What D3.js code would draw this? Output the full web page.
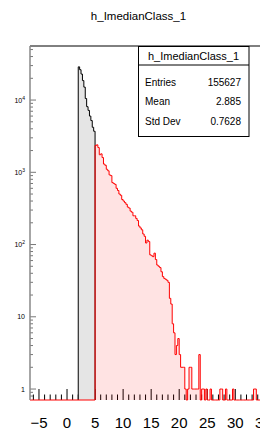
<!DOCTYPE html>
<html>
<head>
<meta charset="utf-8">
<script src="https://cdn.jsdelivr.net/npm/d3@7"></script>
<style>
  body { margin: 0; background: #fff; }
  text { font-family: "Liberation Sans", Arial, sans-serif; }
</style>
</head>
<body>
<div id="chart"></div>
<script>
// histogram contents, bin width 0.25
var binWidth = 0.25;
var grayStart = 2;
var grayCounts = [28800, 26300, 22900, 18600, 15100, 10500, 8100, 7200, 6000, 5200, 4200, 3700];
var redStart = 5;
var redCounts = [2350, 2400, 2200, 1750, 1800, 1600, 1300, 1250, 1100, 1050,
  920, 900, 720, 700, 680, 600, 560, 500, 480, 420,
  400, 380, 360, 330, 320, 290, 280, 250, 250, 230,
  215, 180, 170, 160, 140, 130, 105, 115, 110, 72,
  70, 68, 76, 62, 52, 50, 48, 42, 36, 34,
  33, 32, 30, 18, 15, 8, 6, 3, 4, 5,
  3, 2, 2, 2, 1, 0, 1, 2, 2, 1,
  1, 1, 1, 1, 3, 0, 1, 1, 0, 1,
  0, 0, 1, 0, 0, 0, 0, 0, 0, 1,
  1, 0, 0, 1, 0, 0, 0, 0, 1, 0,
  0, 0, 0, 0, 0, 0, 0, 0, 0, 0,
  0, 0, 0, 1, 1, 0, 0, 0, 0, 0];
var xTickValues = [-5, 0, 5, 10, 15, 20, 25, 30, 35];
var yTickValues = [1, 10, 100, 1000, 10000];
var statNames = ["Entries", "Mean", "Std Dev"];
var statValues = ["155627", "2.885", "0.7628"];
var histName = "h_ImedianClass_1";

var svg = d3.select("#chart").append("svg").attr("width", 260).attr("height", 433);

var xMin = -6.6, xMax = 37.4;
var x = d3.scaleLinear().domain([xMin, xMax]).range([30, 276.8]);
var y = d3.scaleLog().domain([0.705, 56000]).range([400, 46]);
var bottom = y.range()[0];

// title
svg.append("text").attr("x", 138.5).attr("y", 20).attr("text-anchor", "middle")
  .style("font-size", "11.5px").text(histName);

// axes ticks
var ax = svg.append("g");
d3.range(-6, 38).forEach(function (v) {
  var major = v % 5 == 0;
  ax.append("line").attr("x1", x(v)).attr("x2", x(v))
    .attr("y1", bottom).attr("y2", bottom - (major ? 11 : 5.5))
    .attr("stroke", "#000").attr("stroke-width", 1);
});
xTickValues.forEach(function (v) {
  ax.append("text").attr("x", x(v)).attr("y", 428).attr("text-anchor", "middle")
    .style("font-size", "15px").text(v < 0 ? "\u2212" + (-v) : v);
});

var yMinor = [];
[0.1, 1, 10, 100, 1000, 10000].forEach(function (d) {
  for (var k = 1; k < 10; k++) {
    var v = d * k;
    if (v >= 0.705 && v <= 56000) yMinor.push(v);
  }
});
yMinor.forEach(function (v) {
  var major = yTickValues.indexOf(v) >= 0;
  ax.append("line").attr("x1", 30).attr("x2", 30 + (major ? 6 : 3))
    .attr("y1", y(v)).attr("y2", y(v))
    .attr("stroke", "#777").attr("stroke-width", 1);
});
yTickValues.forEach(function (v, i) {
  var t = ax.append("text").attr("x", 25).attr("y", y(v) + 2.5).attr("text-anchor", "end")
    .style("font-size", "7px");
  if (i == 0) t.text("1");
  else if (i == 1) t.text("10");
  else {
    t.append("tspan").text("10");
    t.append("tspan").attr("dy", -3).style("font-size", "5px").text(i);
  }
});

function stepPoints(counts, start, from, to) {
  var pts = [[x(from), bottom], [x(start), bottom]];
  counts.forEach(function (c, i) {
    var yy = c > 0 ? y(c) : bottom;
    pts.push([x(start + i * binWidth), yy]);
    pts.push([x(start + (i + 1) * binWidth), yy]);
  });
  var end = start + counts.length * binWidth;
  pts.push([x(end), bottom]);
  pts.push([x(to), bottom]);
  return pts;
}

var line = d3.line();
svg.append("path").attr("d", line(stepPoints(grayCounts, grayStart, grayStart, redStart)))
  .attr("fill", "#e5e5e5").attr("stroke", "#000").attr("stroke-width", 1);
svg.append("path").attr("d", line(stepPoints(redCounts, redStart, xMin, xMax)))
  .attr("fill", "rgba(255,0,0,0.11)").attr("stroke", "#f00").attr("stroke-width", 1);

// frame
svg.append("line").attr("x1", 30).attr("x2", 280).attr("y1", 46).attr("y2", 46).attr("stroke", "#000");
svg.append("line").attr("x1", 30).attr("x2", 30).attr("y1", 46).attr("y2", 400)
  .attr("stroke", "#888").attr("stroke-width", 1.5);

// stats box
var box = svg.append("g");
box.append("rect").attr("x", 138.5).attr("y", 46.5).attr("width", 110.5).attr("height", 90)
  .attr("fill", "#fff").attr("stroke", "#000");
box.append("line").attr("x1", 138.5).attr("x2", 249).attr("y1", 65).attr("y2", 65).attr("stroke", "#000");
box.append("text").attr("x", 193.5).attr("y", 59.5).attr("text-anchor", "middle")
  .style("font-size", "11px").text(histName);
statNames.forEach(function (n, i) {
  var yy = 85.5 + i * 19.7;
  box.append("text").attr("x", 145).attr("y", yy).style("font-size", "10px").text(n);
  box.append("text").attr("x", 241).attr("y", yy).attr("text-anchor", "end")
    .style("font-size", "10px").text(statValues[i]);
});
</script>
</body>
</html>
